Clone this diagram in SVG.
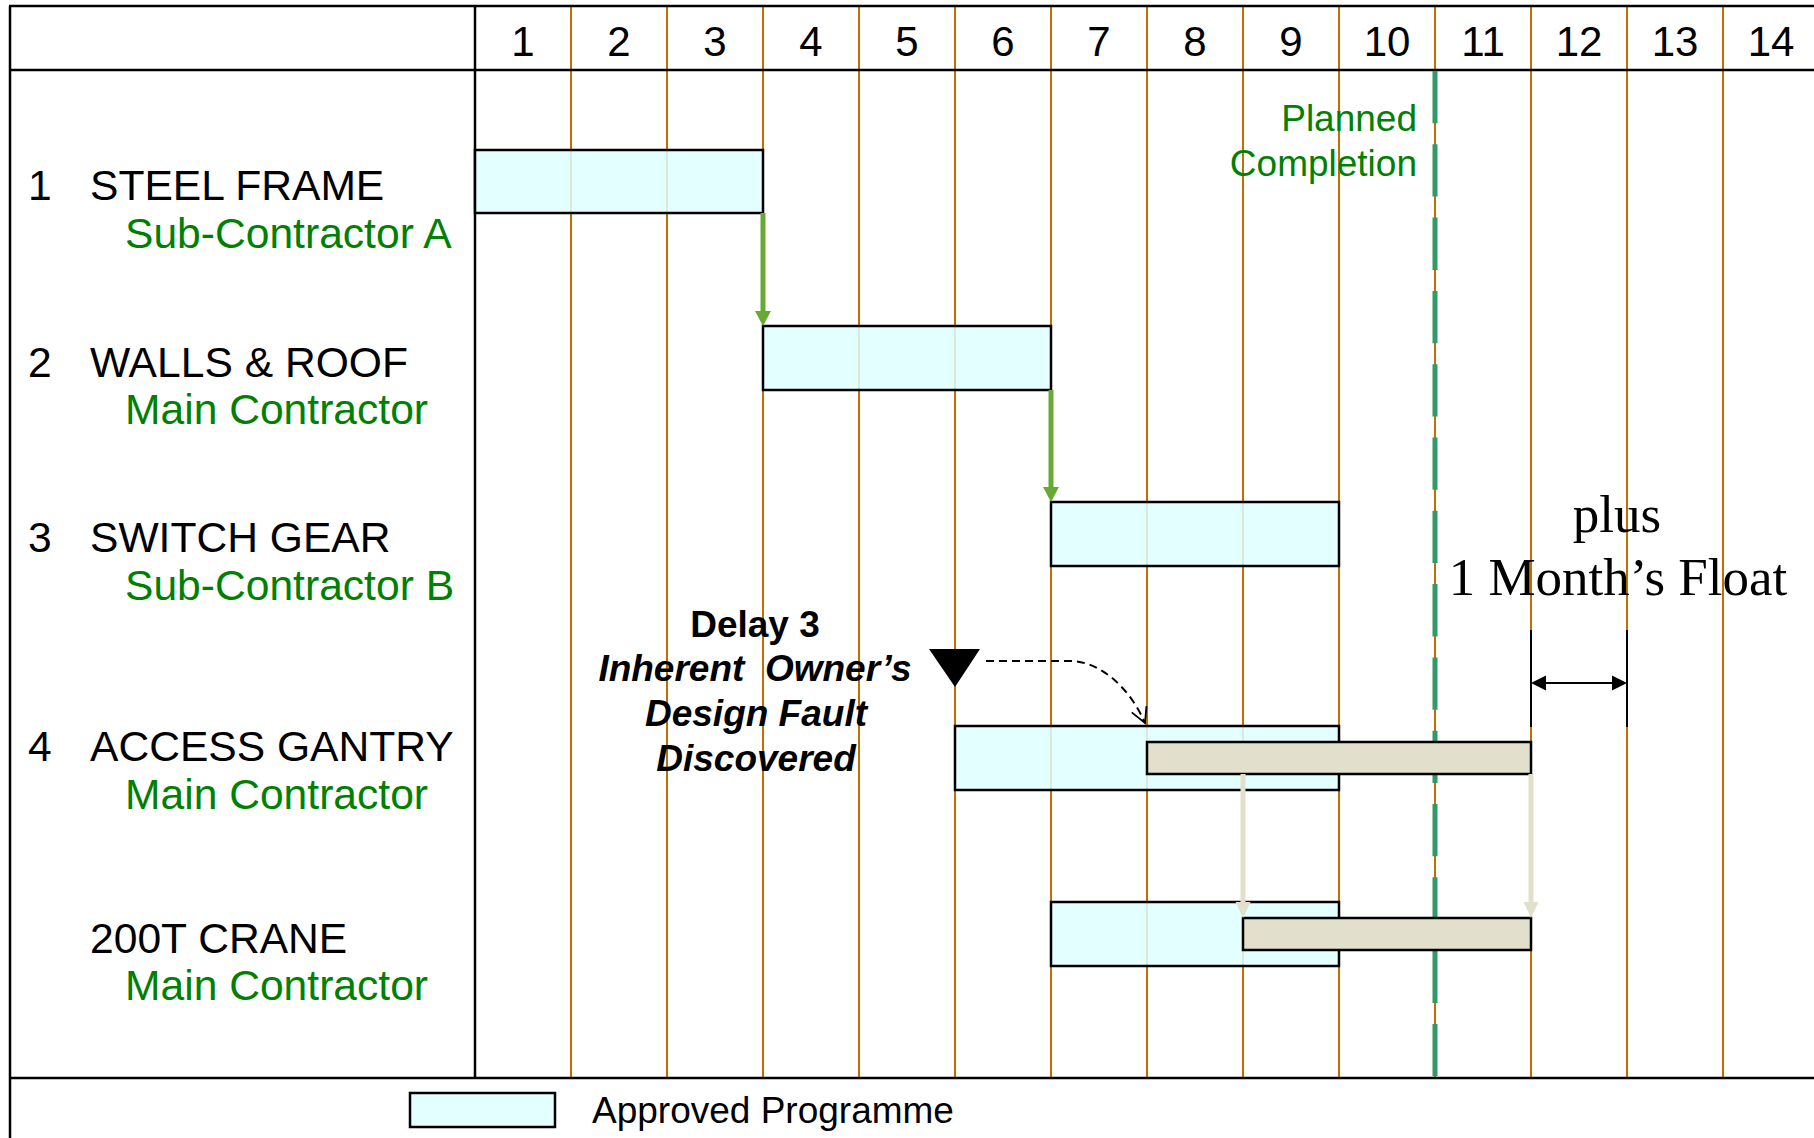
<svg xmlns="http://www.w3.org/2000/svg" width="1814" height="1138" viewBox="0 0 1814 1138">
<style>
text{font-family:"Liberation Sans",Arial,sans-serif;}
.hdr{font-size:42px;fill:#000;text-anchor:middle;}
.lbl{font-size:42.6px;fill:#000;}
.sub{font-size:42.6px;fill:#008000;}
.grn{font-size:37px;fill:#008000;text-anchor:end;}
.dly{font-size:37px;font-weight:bold;fill:#000;text-anchor:middle;}
.ser{font-family:"Liberation Serif","Times New Roman",serif;font-size:53px;fill:#000;text-anchor:middle;}
.frame{stroke:#000;stroke-width:2.5;fill:none;}
.col{stroke:#bf7000;stroke-width:2;}
.appr{fill:#e0ffff;fill-opacity:0.86;stroke:#000;stroke-width:2.5;}
.late{fill:#e2dfcc;stroke:#000;stroke-width:2.5;}
.garr{stroke:#66aa33;stroke-width:5;fill:none;}
.barr{stroke:#e2dfcc;stroke-width:5;fill:none;}
</style>
<defs>
<marker id="hg" markerUnits="userSpaceOnUse" markerWidth="16" markerHeight="17" viewBox="0 -8.5 16 17" refX="0" refY="0" orient="auto"><path d="M0,-8 L15,0 L0,8 Z" fill="#66aa33"/></marker>
<marker id="hb" markerUnits="userSpaceOnUse" markerWidth="17" markerHeight="17" viewBox="0 -8.5 17 17" refX="0" refY="0" orient="auto"><path d="M0,-7.5 L16,0 L0,7.5 Z" fill="#e2dfcc"/></marker>
<marker id="hk" markerUnits="userSpaceOnUse" markerWidth="16" markerHeight="16" viewBox="0 -8 16 16" refX="0" refY="0" orient="auto-start-reverse"><path d="M0,-7.5 L15,0 L0,7.5 Z" fill="#000"/></marker>
<marker id="ho" markerUnits="userSpaceOnUse" markerWidth="20" markerHeight="20" viewBox="-18 -10 20 20" refX="0" refY="0" orient="auto"><path d="M-15,-8 L0,0 L-15,8" fill="none" stroke="#000" stroke-width="1.8" stroke-dasharray="none"/></marker>
</defs>
<rect x="0" y="0" width="1814" height="1138" fill="#fff"/>

<g id="grid">
<g class="col">
<line x1="571" y1="6" x2="571" y2="1078"/>
<line x1="667" y1="6" x2="667" y2="1078"/>
<line x1="763" y1="6" x2="763" y2="1078"/>
<line x1="859" y1="6" x2="859" y2="1078"/>
<line x1="955" y1="6" x2="955" y2="1078"/>
<line x1="1051" y1="6" x2="1051" y2="1078"/>
<line x1="1147" y1="6" x2="1147" y2="1078"/>
<line x1="1243" y1="6" x2="1243" y2="1078"/>
<line x1="1339" y1="6" x2="1339" y2="1078"/>
<line x1="1435" y1="6" x2="1435" y2="1078"/>
<line x1="1531" y1="6" x2="1531" y2="1078"/>
<line x1="1627" y1="6" x2="1627" y2="1078"/>
<line x1="1723" y1="6" x2="1723" y2="1078"/>
</g>
<g class="frame">
<line x1="9" y1="6" x2="1814" y2="6"/>
<line x1="9" y1="70" x2="1814" y2="70"/>
<line x1="9" y1="1078" x2="1814" y2="1078"/>
<line x1="10" y1="6" x2="10" y2="1138"/>
<line x1="475" y1="6" x2="475" y2="1078"/>
</g>
<g class="hdr">
<text x="523" y="56">1</text>
<text x="619" y="56">2</text>
<text x="715" y="56">3</text>
<text x="811" y="56">4</text>
<text x="907" y="56">5</text>
<text x="1003" y="56">6</text>
<text x="1099" y="56">7</text>
<text x="1195" y="56">8</text>
<text x="1291" y="56">9</text>
<text x="1387" y="56">10</text>
<text x="1483" y="56">11</text>
<text x="1579" y="56">12</text>
<text x="1675" y="56">13</text>
<text x="1771" y="56">14</text>
</g>
</g>

<g id="planned-completion">
<line x1="1435" y1="71" x2="1435" y2="1078" stroke="#339966" stroke-width="5" stroke-dasharray="52.3 21"/>
<text class="grn" x="1417" y="131">Planned</text>
<text class="grn" x="1417" y="176">Completion</text>
</g>

<g id="task1">
<text class="lbl" x="28" y="200">1</text>
<text class="lbl" x="90" y="200">STEEL FRAME</text>
<text class="sub" x="125" y="248">Sub-Contractor A</text>
<rect class="appr" x="475" y="150" width="288" height="63"/>
</g>

<g id="task2">
<text class="lbl" x="28" y="377">2</text>
<text class="lbl" x="90" y="377">WALLS &amp; ROOF</text>
<text class="sub" x="125" y="424">Main Contractor</text>
<rect class="appr" x="763" y="326" width="288" height="64"/>
</g>

<g id="task3">
<text class="lbl" x="28" y="552">3</text>
<text class="lbl" x="90" y="552">SWITCH GEAR</text>
<text class="sub" x="125" y="600">Sub-Contractor B</text>
<rect class="appr" x="1051" y="502" width="288" height="64"/>
</g>

<g id="task4">
<text class="lbl" x="28" y="761">4</text>
<text class="lbl" x="90" y="761">ACCESS GANTRY</text>
<text class="sub" x="125" y="809">Main Contractor</text>
<rect class="appr" x="955" y="726" width="384" height="64"/>
<rect class="late" x="1147" y="742" width="384" height="32"/>
</g>

<g id="task5">
<text class="lbl" x="90" y="953">200T CRANE</text>
<text class="sub" x="125" y="1000">Main Contractor</text>
<rect class="appr" x="1051" y="902" width="288" height="64"/>
<rect class="late" x="1243" y="918" width="288" height="32"/>
</g>

<g id="delay3">
<polygon points="929,649 980,649 955,687" fill="#000"/>
<text class="dly" x="755" y="637">Delay 3</text>
<text class="dly" x="755" y="681" font-style="italic" xml:space="preserve">Inherent  Owner’s</text>
<text class="dly" x="756" y="726" font-style="italic">Design Fault</text>
<text class="dly" x="756" y="771" font-style="italic">Discovered</text>
</g>

<g id="float">
<text class="ser" x="1617" y="532">plus</text>
<text class="ser" x="1618" y="595">1 Month’s Float</text>
<line x1="1531" y1="630" x2="1531" y2="727" stroke="#000" stroke-width="2"/>
<line x1="1627" y1="630" x2="1627" y2="727" stroke="#000" stroke-width="2"/>
</g>

<g id="connectors">
<path class="garr" d="M763 213 V311" marker-end="url(#hg)"/>
<path class="garr" d="M1051 390 V487" marker-end="url(#hg)"/>
<path class="barr" d="M1243 774 V902" marker-end="url(#hb)"/>
<path class="barr" d="M1531 774 V902" marker-end="url(#hb)"/>
<path d="M1546 683 H1612" stroke="#000" stroke-width="2" fill="none" marker-start="url(#hk)" marker-end="url(#hk)"/>
<path d="M986 661 H1070 C1100 661 1130 688 1145 723" stroke="#000" stroke-width="2" fill="none" stroke-dasharray="8 5" marker-end="url(#ho)"/>
</g>

<g id="legend">
<rect class="appr" x="410" y="1093" width="145" height="34"/>
<text x="592" y="1123" font-size="37" fill="#000">Approved Programme</text>
</g>
</svg>
